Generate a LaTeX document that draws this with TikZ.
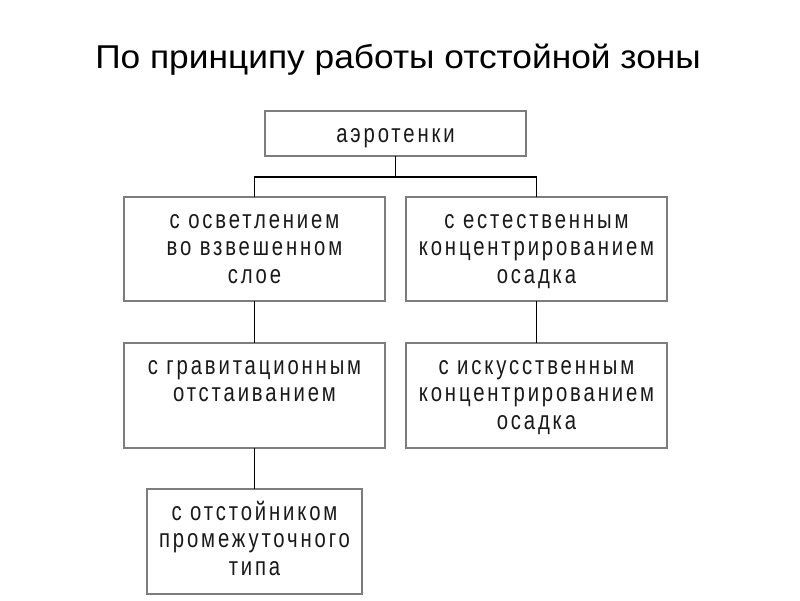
\documentclass[tikz,border=0pt]{standalone}
\usepackage{fontspec}
\usepackage{tikz}
\setmainfont{Liberation Sans}
\newfontfamily\headfont[FakeStretch=1.07]{Liberation Sans}
\newfontfamily\cellfont[FakeStretch=0.78,LetterSpace=11]{Liberation Sans}
\definecolor{framegray}{RGB}{125,125,125}
\newcommand{\cell}[3]{\parbox[t][#2][t]{#1}{\centering\rule{0pt}{31pt}#3}}

\begin{document}
\begin{tikzpicture}[x=1pt,y=-1pt,
    unit/.style={draw=framegray,line width=1.3pt,fill=white,inner sep=0pt,outer sep=0pt,anchor=north,
      text=black!90,font=\cellfont\fontsize{26pt}{27.5pt}\selectfont},
    link/.style={draw=black,line width=1.5pt}]
      \useasboundingbox (0,0) rectangle (800,600);
      \node[anchor=base,font=\headfont\fontsize{33pt}{38pt}\selectfont] (head) at (398,68) {По принципу работы отстойной зоны};
      \node[unit] (aero) at (395.5,111) {\cell{261pt}{45pt}{аэротенки}};
      \node[unit] (osv) at (254.5,197) {\cell{261pt}{104pt}{с осветлением\\во взвешенном\\слое}};
      \node[unit] (est) at (536.5,197) {\cell{261pt}{104pt}{с естественным\\концентрированием\\осадка}};
      \node[unit] (grav) at (254.5,343) {\cell{261pt}{105pt}{с гравитационным\\отстаиванием}};
      \node[unit] (isk) at (536.5,343) {\cell{261pt}{105pt}{с искусственным\\концентрированием\\осадка}};
      \node[unit] (prom) at (254.5,489) {\cell{215pt}{105pt}{с отстойником\\промежуточного\\типа}};
      \coordinate (fork) at (395.5,177);
      \draw[link] (aero) -- (fork);
      \draw[link] (osv.north) |- (fork) -| (est.north);
      \draw[link] (osv) -- (grav);
      \draw[link] (est) -- (isk);
      \draw[link] (grav) -- (prom);
\end{tikzpicture}
\end{document}
